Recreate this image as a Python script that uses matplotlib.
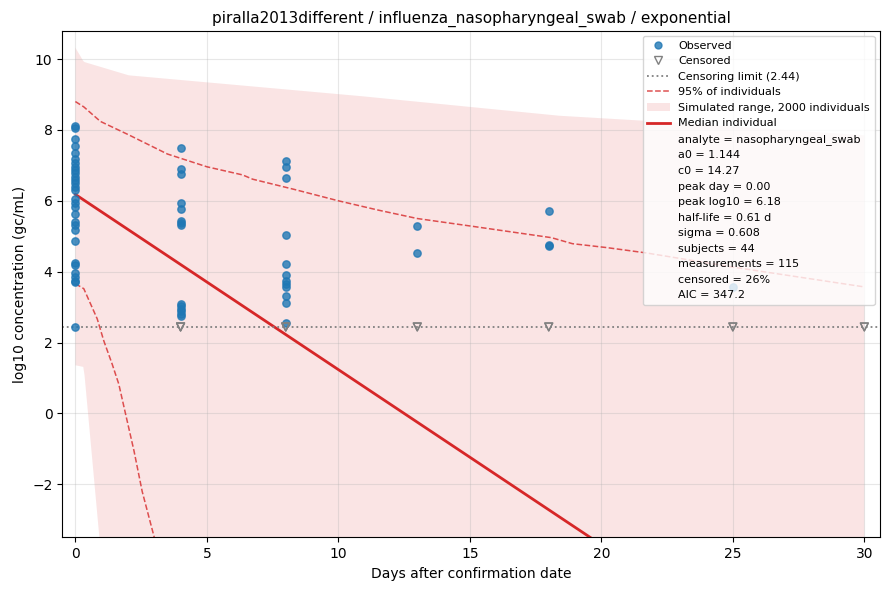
import numpy as np
import matplotlib
matplotlib.use("Agg")
import matplotlib.pyplot as plt
from matplotlib.lines import Line2D

# observed log10 concentrations, grouped by sampling day
obs_day_0 = [8.10, 8.05, 7.75, 7.55, 7.36, 7.17, 7.06, 6.96, 6.87, 6.78,
             6.68, 6.59, 6.49, 6.40, 6.30, 6.04, 5.94, 5.83, 5.64, 5.41,
             5.31, 5.17, 4.86, 4.24, 4.18, 3.96, 3.85, 3.75, 3.71, 2.44]
obs_day_4 = [7.48, 6.89, 6.75, 5.95, 5.76, 5.43, 5.38, 5.33,
             3.09, 3.02, 2.95, 2.88, 2.81, 2.74]
obs_day_8 = [7.12, 6.96, 6.63, 5.04, 4.21, 3.92, 3.75, 3.64, 3.57,
             3.30, 3.13, 2.55]
obs_day_13 = [5.30, 4.54]
obs_day_18 = [5.70, 4.75, 4.72]
obs_day_25 = [3.57]

censor_limit = 2.44
censored_days = [4, 4, 4, 8, 8, 8, 13, 13, 18, 18, 25, 25, 30, 30]

# simulated curves
median_days = [0, 30]
median_log10 = [6.18, -8.65]

upper95_days = [0, 0.32, 0.95, 2.03, 3.5, 5.0, 6.36, 6.74, 8.33, 10.0,
                11.5, 13.0, 15.1, 18.1, 18.9, 20.2, 21.7, 25, 30]
upper95_log10 = [8.80, 8.65, 8.24, 7.86, 7.32, 6.96, 6.73, 6.61, 6.32, 6.00,
                 5.74, 5.50, 5.28, 4.96, 4.79, 4.68, 4.53, 4.13, 3.57]

lower95_days = [0, 0.32, 0.83, 1.08, 1.40, 1.65, 1.91, 2.23, 2.54, 2.99, 3.2]
lower95_log10 = [3.66, 3.52, 2.67, 2.05, 1.39, 0.83, -0.02, -1.06, -2.20,
                 -3.47, -4.0]

range_days = [0, 0.32, 0.95, 2.03, 10.9, 18.4, 21.6, 30]
range_top = [10.32, 9.92, 9.78, 9.54, 8.95, 8.40, 8.26, 7.85]
range_bottom = [1.36, 1.31, -3.8, -6.0, -10.0, -12.0, -13.0, -15.0]

fit_lines = ["analyte = nasopharyngeal_swab", "a0 = 1.144", "c0 = 14.27",
             "peak day = 0.00", "peak log10 = 6.18", "half-life = 0.61 d",
             "sigma = 0.608", "subjects = 44", "measurements = 115",
             "censored = 26%", "AIC = 347.2"]

red = "#d62728"

fig, ax = plt.subplots(figsize=(8.89, 5.9), dpi=100)
fig.subplots_adjust(left=0.070, right=0.990, top=0.948, bottom=0.089)

grid_days = np.linspace(0, 30, 601)
top = np.interp(grid_days, range_days, range_top)
bot = np.interp(grid_days, range_days, range_bottom)
ax.fill_between(grid_days, bot, top, color=red, alpha=0.12, lw=0)

ax.plot(upper95_days, upper95_log10, color=red, ls="--", lw=1.1, alpha=0.8)
ax.plot(lower95_days, lower95_log10, color=red, ls="--", lw=1.1, alpha=0.8)
ax.plot(median_days, median_log10, color=red, lw=2)

ax.axhline(censor_limit, color="gray", ls=":", lw=1.3)

obs_groups = [(0, obs_day_0), (4, obs_day_4), (8, obs_day_8),
              (13, obs_day_13), (18, obs_day_18), (25, obs_day_25)]
xs = [d for d, vals in obs_groups for _ in vals]
ys = [v for _, vals in obs_groups for v in vals]
ax.scatter(xs, ys, s=28, color="#1f77b4", alpha=0.8, zorder=3)
ax.scatter(censored_days, [censor_limit] * len(censored_days), s=32,
           marker="v", facecolors="none", edgecolors="gray", lw=1, zorder=3)

ax.set_xlim(-0.5, 30.6)
ax.set_ylim(-3.5, 10.8)
ax.grid(alpha=0.3)
ax.set_xlabel("Days after confirmation date")
ax.set_ylabel("log10 concentration (gc/mL)")
ax.set_title("piralla2013different / influenza_nasopharyngeal_swab / exponential",
             fontsize=11)

handles = [
    Line2D([], [], ls="none", marker="o", color="#1f77b4", alpha=0.8, ms=5),
    Line2D([], [], ls="none", marker="v", mfc="none", mec="gray", ms=6),
    Line2D([], [], color="gray", ls=":", lw=1.3),
    Line2D([], [], color=red, ls="--", lw=1.1, alpha=0.8),
    plt.Rectangle((0, 0), 1, 1, color=red, alpha=0.12, lw=0),
    Line2D([], [], color=red, lw=2),
]
labels = ["Observed", "Censored", "Censoring limit (2.44)",
          "95% of individuals", "Simulated range, 2000 individuals",
          "Median individual"]
for s in fit_lines:
    handles.append(Line2D([], [], ls="none"))
    labels.append(s)
ax.legend(handles, labels, loc="upper right", fontsize=8)

fig.savefig("out.png")
